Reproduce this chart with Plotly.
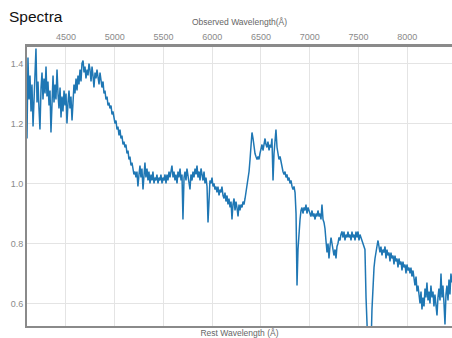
import plotly.graph_objects as go

wavelength = [
4100,4110,4121,4131,4141,4151,4162,4172,4182,4192,4203,4213,4223,4233,4244,4254,4264,4274,4285,4295,
4305,4315,4326,4336,4346,4356,4367,4377,4387,4397,4408,4418,4428,4439,4449,4459,4469,4480,4490,4500,
4510,4521,4531,4541,4551,4562,4572,4582,4592,4603,4613,4623,4633,4644,4654,4664,4675,4685,4695,4705,
4716,4726,4736,4746,4757,4767,4777,4787,4798,4808,4818,4828,4839,4849,4859,4869,4880,4890,4900,4910,
4921,4931,4941,4951,4962,4972,4982,4992,5003,5013,5023,5033,5044,5054,5064,5074,5085,5095,5105,5115,
5126,5136,5146,5156,5167,5177,5187,5197,5208,5218,5228,5238,5249,5259,5269,5279,5290,5300,5310,5320,
5331,5341,5351,5362,5372,5382,5392,5403,5413,5423,5433,5444,5454,5464,5474,5485,5495,5505,5516,5526,
5536,5546,5557,5567,5577,5587,5598,5608,5618,5628,5639,5649,5659,5670,5680,5690,5700,5711,5721,5731,
5741,5752,5762,5772,5782,5793,5803,5813,5824,5834,5844,5854,5865,5875,5885,5895,5906,5916,5926,5936,
5947,5957,5967,5977,5988,5998,6008,6018,6029,6039,6049,6059,6070,6080,6090,6100,6111,6121,6131,6141,
6152,6162,6172,6183,6193,6203,6213,6224,6234,6244,6254,6265,6275,6285,6295,6306,6316,6326,6337,6347,
6357,6367,6378,6388,6398,6408,6419,6429,6439,6449,6460,6470,6480,6490,6501,6511,6521,6531,6542,6552,
6562,6572,6583,6593,6603,6613,6624,6634,6644,6654,6665,6675,6685,6696,6706,6716,6726,6737,6747,6757,
6767,6778,6788,6798,6808,6819,6829,6839,6850,6860,6870,6880,6890,6901,6911,6921,6931,6942,6952,6962,
6972,6983,6993,7003,7013,7024,7034,7044,7055,7065,7075,7085,7096,7106,7116,7126,7137,7147,7157,7167,
7178,7188,7198,7208,7219,7229,7239,7249,7260,7270,7280,7290,7301,7311,7321,7331,7342,7352,7362,7372,
7383,7393,7403,7414,7424,7434,7444,7455,7465,7475,7485,7496,7506,7516,7526,7537,7547,7557,7567,7578,
7588,7598,7608,7619,7629,7639,7649,7660,7670,7680,7690,7701,7711,7721,7731,7742,7752,7762,7773,7783,
7793,7803,7814,7824,7834,7844,7855,7865,7875,7885,7896,7906,7916,7927,7937,7947,7957,7967,7978,7988,
7998,8009,8019,8029,8039,8049,8060,8070,8080,8091,8101,8111,8121,8132,8142,8152,8162,8173,8183,8193,
8203,8214,8224,8234,8244,8255,8265,8275,8285,8296,8306,8316,8326,8337,8347,8357,8367,8378,8388,8398,
8408,8419,8429,8439,8449,8460,
]

flux = [
1.15,1.42,1.28,1.36,1.24,1.33,1.19,1.30,1.38,1.45,1.27,1.34,1.25,1.18,1.32,1.37,1.28,1.35,1.30,1.39,
1.29,1.34,1.26,1.31,1.17,1.29,1.36,1.27,1.33,1.28,1.38,1.30,1.25,1.32,1.22,1.29,1.24,1.31,1.26,1.30,
1.20,1.27,1.31,1.25,1.29,1.21,1.28,1.33,1.30,1.35,1.31,1.36,1.33,1.38,1.34,1.40,1.41,1.37,1.39,1.35,
1.38,1.36,1.40,1.38,1.34,1.39,1.36,1.32,1.37,1.35,1.38,1.36,1.33,1.37,1.35,1.32,1.34,1.30,1.31,1.28,
1.29,1.26,1.27,1.25,1.26,1.23,1.24,1.21,1.20,1.21,1.18,1.19,1.16,1.18,1.15,1.16,1.13,1.14,1.12,1.13,
1.10,1.11,1.08,1.09,1.06,1.07,1.05,1.03,1.04,1.02,1.04,0.99,1.03,1.06,1.02,1.05,0.98,1.03,1.07,1.02,
1.05,1.01,1.04,1.00,1.03,1.01,1.04,1.00,1.02,1.01,1.03,1.00,1.02,1.01,1.03,1.00,1.02,1.01,1.03,1.00,
1.03,1.01,1.04,1.02,1.05,1.06,1.02,1.04,1.01,1.03,1.00,1.04,1.02,1.05,1.01,1.03,0.88,1.02,1.04,1.01,
1.05,1.02,1.00,0.98,1.03,1.01,1.04,1.02,1.05,1.03,1.06,1.02,1.04,1.01,1.05,1.03,1.01,1.04,1.00,1.02,
0.99,0.87,0.98,1.01,1.00,1.02,0.99,1.00,0.98,0.99,0.97,0.99,0.96,0.98,0.97,0.99,0.96,0.95,0.97,0.94,
0.96,0.93,0.95,0.92,0.94,0.88,0.93,0.95,0.91,0.94,0.92,0.89,0.93,0.91,0.93,0.92,0.94,0.93,0.95,0.97,
1.00,1.02,1.04,1.08,1.13,1.17,1.15,1.12,1.10,1.09,1.08,1.09,1.08,1.10,1.12,1.13,1.11,1.14,1.15,1.13,
1.12,1.14,1.11,1.13,1.12,1.15,1.01,1.10,1.13,1.18,1.12,1.09,1.08,1.09,1.07,1.06,1.04,1.03,1.04,1.02,
1.03,1.01,1.02,1.00,1.01,0.99,0.98,0.99,0.97,0.90,0.66,0.78,0.84,0.88,0.91,0.92,0.90,0.92,0.91,0.93,
0.90,0.92,0.91,0.90,0.89,0.91,0.89,0.90,0.88,0.90,0.89,0.91,0.89,0.90,0.88,0.93,0.88,0.87,0.85,0.81,
0.77,0.80,0.75,0.79,0.82,0.80,0.77,0.76,0.78,0.75,0.79,0.80,0.82,0.81,0.83,0.84,0.82,0.84,0.81,0.83,
0.82,0.84,0.82,0.83,0.81,0.84,0.82,0.83,0.81,0.84,0.82,0.84,0.81,0.83,0.82,0.81,0.80,0.79,0.78,0.62,
0.45,0.45,0.45,0.45,0.45,0.58,0.66,0.72,0.75,0.78,0.79,0.81,0.78,0.77,0.79,0.76,0.78,0.77,0.79,0.75,
0.78,0.76,0.77,0.74,0.77,0.75,0.76,0.73,0.76,0.74,0.75,0.72,0.75,0.73,0.74,0.71,0.74,0.72,0.73,0.70,
0.73,0.71,0.72,0.70,0.72,0.69,0.71,0.67,0.66,0.69,0.64,0.66,0.63,0.60,0.64,0.58,0.62,0.59,0.65,0.62,
0.67,0.61,0.64,0.60,0.66,0.62,0.64,0.59,0.63,0.60,0.56,0.62,0.65,0.61,0.70,0.62,0.66,0.60,0.53,0.63,
0.66,0.61,0.68,0.63,0.70,0.67,
]

x_range = [4100, 8460]
y_range = [0.525, 1.455]
obs_ticks = [4500, 5000, 5500, 6000, 6500, 7000, 7500, 8000]
y_ticks = [0.6, 0.8, 1.0, 1.2, 1.4]

FONT = "Liberation Sans, Arial, sans-serif"
AXIS_COLOR = "#8a8a8a"
GRID = "#e4e4e4"

fig = go.Figure()
fig.add_trace(go.Scatter(x=[], y=[], xaxis="x", yaxis="y", showlegend=False, hoverinfo="skip"))
fig.add_trace(go.Scatter(
    x=wavelength, y=flux, xaxis="x2", yaxis="y", mode="lines",
    line=dict(color="#1f77b4", width=1.5), showlegend=False,
))

fig.update_layout(
    width=452, height=338,
    margin=dict(l=27, r=0, t=47, b=12),
    paper_bgcolor="white", plot_bgcolor="white",
    font=dict(family=FONT, color="#888888", size=9),
    title=dict(text="Spectra", x=9/452, xanchor="left", xref="container",
               y=1-17/338, yanchor="middle", yref="container",
               font=dict(family=FONT, size=15.5, color="#111111")),
    xaxis=dict(range=x_range, showticklabels=False, showgrid=False, zeroline=False,
               showline=True, linecolor=AXIS_COLOR, linewidth=2, ticks="",
               automargin=False,
               title=dict(text="Rest Wavelength (Å)", font=dict(size=8.5, color="#666666"), standoff=3)),
    xaxis2=dict(range=x_range, overlaying="x", side="top", anchor="y",
                tickvals=obs_ticks, ticktext=[str(t) for t in obs_ticks],
                tickfont=dict(size=9, color="#8a8a8a"),
                showgrid=True, gridcolor=GRID, gridwidth=1, zeroline=False,
                showline=True, linecolor=AXIS_COLOR, linewidth=3, ticks="",
                automargin=False,
                title=dict(text="Observed Wavelength(Å)", font=dict(size=8.5, color="#666666"), standoff=6)),
    yaxis=dict(range=y_range, tickvals=y_ticks, tickformat=".1f",
               tickfont=dict(size=9, color="#8a8a8a"),
               showgrid=True, gridcolor=GRID, gridwidth=1, zeroline=False,
               showline=True, linecolor=AXIS_COLOR, linewidth=2, ticks="",
               automargin=False),
)

fig.write_html("out.html", config={"displayModeBar": False},
               post_script="document.body.style.margin='0';")
